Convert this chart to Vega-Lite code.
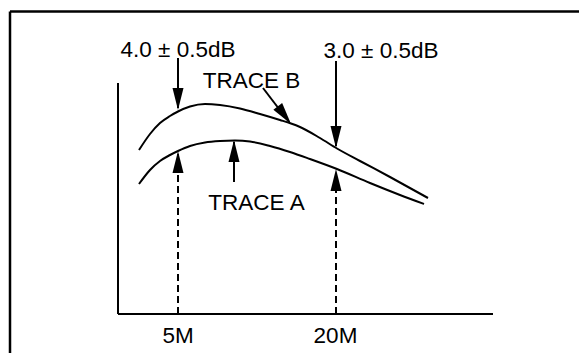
{
  "$schema": "https://vega.github.io/schema/vega-lite/v6.json",
  "width": 579,
  "height": 353,
  "padding": 0,
  "autosize": {"type": "fit", "contains": "padding"},
  "background": "white",
  "config": {"view": {"stroke": null}},
  "datasets": {
    "frame": [
      {"x": -108, "y": 302.5, "x2": 520, "y2": 302.5},
      {"x": -108, "y": 302.5, "x2": -108, "y2": -80}
    ],
    "axes": [
      {"x": 0, "y": 231, "x2": 0, "y2": 0},
      {"x": 0, "y": 0, "x2": 375, "y2": 0}
    ],
    "traces": [
      {"trace": "A", "x": 21, "y": 130}, {"trace": "A", "x": 32, "y": 144}, {"trace": "A", "x": 42, "y": 153},
      {"trace": "A", "x": 52, "y": 159}, {"trace": "A", "x": 60, "y": 163}, {"trace": "A", "x": 72, "y": 168},
      {"trace": "A", "x": 87, "y": 171.5}, {"trace": "A", "x": 102, "y": 173}, {"trace": "A", "x": 117, "y": 173.5},
      {"trace": "A", "x": 132, "y": 172.5}, {"trace": "A", "x": 152, "y": 168}, {"trace": "A", "x": 172, "y": 162},
      {"trace": "A", "x": 192, "y": 155}, {"trace": "A", "x": 219, "y": 145}, {"trace": "A", "x": 252, "y": 131},
      {"trace": "A", "x": 282, "y": 119}, {"trace": "A", "x": 306, "y": 110},
      {"trace": "B", "x": 21, "y": 164}, {"trace": "B", "x": 32, "y": 180}, {"trace": "B", "x": 42, "y": 191},
      {"trace": "B", "x": 52, "y": 198}, {"trace": "B", "x": 60, "y": 202.5}, {"trace": "B", "x": 72, "y": 207.5},
      {"trace": "B", "x": 87, "y": 210}, {"trace": "B", "x": 102, "y": 209}, {"trace": "B", "x": 122, "y": 205.5},
      {"trace": "B", "x": 142, "y": 200}, {"trace": "B", "x": 162, "y": 194}, {"trace": "B", "x": 173, "y": 190.5},
      {"trace": "B", "x": 182, "y": 187}, {"trace": "B", "x": 202, "y": 176}, {"trace": "B", "x": 219, "y": 165.5},
      {"trace": "B", "x": 242, "y": 153}, {"trace": "B", "x": 272, "y": 137}, {"trace": "B", "x": 310, "y": 116}
    ],
    "shafts": [
      {"x": 60, "y": 256, "x2": 60, "y2": 206, "style": "solid"},
      {"x": 218, "y": 253, "x2": 218, "y2": 168, "style": "solid"},
      {"x": 145, "y": 226, "x2": 171, "y2": 192, "style": "solid"},
      {"x": 116, "y": 132, "x2": 116, "y2": 172, "style": "solid"},
      {"x": 60, "y": 0, "x2": 60, "y2": 160, "style": "dashed"},
      {"x": 218, "y": 0, "x2": 218, "y2": 142, "style": "dashed"}
    ],
    "heads": [
      {"x": 60, "y": 204, "angle": 0},
      {"x": 218, "y": 166, "angle": 0},
      {"x": 173, "y": 190, "angle": -37},
      {"x": 116, "y": 174, "angle": 180},
      {"x": 60, "y": 163, "angle": 180},
      {"x": 218, "y": 145, "angle": 180}
    ],
    "labels": [
      {"text": "4.0 ± 0.5dB", "x": 60, "y": 257},
      {"text": "3.0 ± 0.5dB", "x": 263, "y": 256},
      {"text": "TRACE B", "x": 133.5, "y": 226},
      {"text": "TRACE A", "x": 138.5, "y": 104},
      {"text": "5M", "x": 60, "y": -29},
      {"text": "20M", "x": 217.5, "y": -29}
    ]
  },
  "layer": [
    {
      "data": {"name": "frame"},
      "mark": {"type": "rule", "strokeWidth": 2.5, "color": "black", "clip": true},
      "encoding": {
        "x": {"field": "x", "type": "quantitative", "scale": {"domain": [-118, 461], "nice": false, "zero": false}, "axis": null},
        "y": {"field": "y", "type": "quantitative", "scale": {"domain": [-39, 314], "nice": false, "zero": false}, "axis": null},
        "x2": {"field": "x2"},
        "y2": {"field": "y2"}
      }
    },
    {
      "data": {"name": "axes"},
      "mark": {"type": "rule", "strokeWidth": 2, "color": "black"},
      "encoding": {
        "x": {"field": "x", "type": "quantitative", "scale": {"domain": [-118, 461], "nice": false, "zero": false}, "axis": null},
        "y": {"field": "y", "type": "quantitative", "scale": {"domain": [-39, 314], "nice": false, "zero": false}, "axis": null},
        "x2": {"field": "x2"},
        "y2": {"field": "y2"}
      }
    },
    {
      "data": {"name": "traces"},
      "mark": {"type": "line", "strokeWidth": 2, "color": "black", "interpolate": "monotone"},
      "encoding": {
        "x": {"field": "x", "type": "quantitative", "scale": {"domain": [-118, 461], "nice": false, "zero": false}, "axis": null},
        "y": {"field": "y", "type": "quantitative", "scale": {"domain": [-39, 314], "nice": false, "zero": false}, "axis": null},
        "detail": {"field": "trace", "type": "nominal"}
      }
    },
    {
      "data": {"name": "shafts"},
      "transform": [{"filter": "datum.style === 'solid'"}],
      "mark": {"type": "rule", "strokeWidth": 2, "color": "black"},
      "encoding": {
        "x": {"field": "x", "type": "quantitative", "scale": {"domain": [-118, 461], "nice": false, "zero": false}, "axis": null},
        "y": {"field": "y", "type": "quantitative", "scale": {"domain": [-39, 314], "nice": false, "zero": false}, "axis": null},
        "x2": {"field": "x2"},
        "y2": {"field": "y2"}
      }
    },
    {
      "data": {"name": "shafts"},
      "transform": [{"filter": "datum.style === 'dashed'"}],
      "mark": {"type": "rule", "strokeWidth": 2, "color": "black", "strokeDash": [7, 4]},
      "encoding": {
        "x": {"field": "x", "type": "quantitative", "scale": {"domain": [-118, 461], "nice": false, "zero": false}, "axis": null},
        "y": {"field": "y", "type": "quantitative", "scale": {"domain": [-39, 314], "nice": false, "zero": false}, "axis": null},
        "x2": {"field": "x2"},
        "y2": {"field": "y2"}
      }
    },
    {
      "data": {"name": "heads"},
      "mark": {"type": "point", "shape": "M-0.5,-2L0.5,-2L0,0Z", "filled": true, "color": "black", "opacity": 1, "size": 484, "strokeWidth": 0},
      "encoding": {
        "x": {"field": "x", "type": "quantitative", "scale": {"domain": [-118, 461], "nice": false, "zero": false}, "axis": null},
        "y": {"field": "y", "type": "quantitative", "scale": {"domain": [-39, 314], "nice": false, "zero": false}, "axis": null},
        "angle": {"field": "angle", "type": "quantitative", "scale": null}
      }
    },
    {
      "data": {"name": "labels"},
      "mark": {"type": "text", "font": "Liberation Sans", "fontSize": 22.5, "align": "center", "baseline": "alphabetic", "color": "black"},
      "encoding": {
        "x": {"field": "x", "type": "quantitative", "scale": {"domain": [-118, 461], "nice": false, "zero": false}, "axis": null},
        "y": {"field": "y", "type": "quantitative", "scale": {"domain": [-39, 314], "nice": false, "zero": false}, "axis": null},
        "text": {"field": "text", "type": "nominal"}
      }
    }
  ]
}
